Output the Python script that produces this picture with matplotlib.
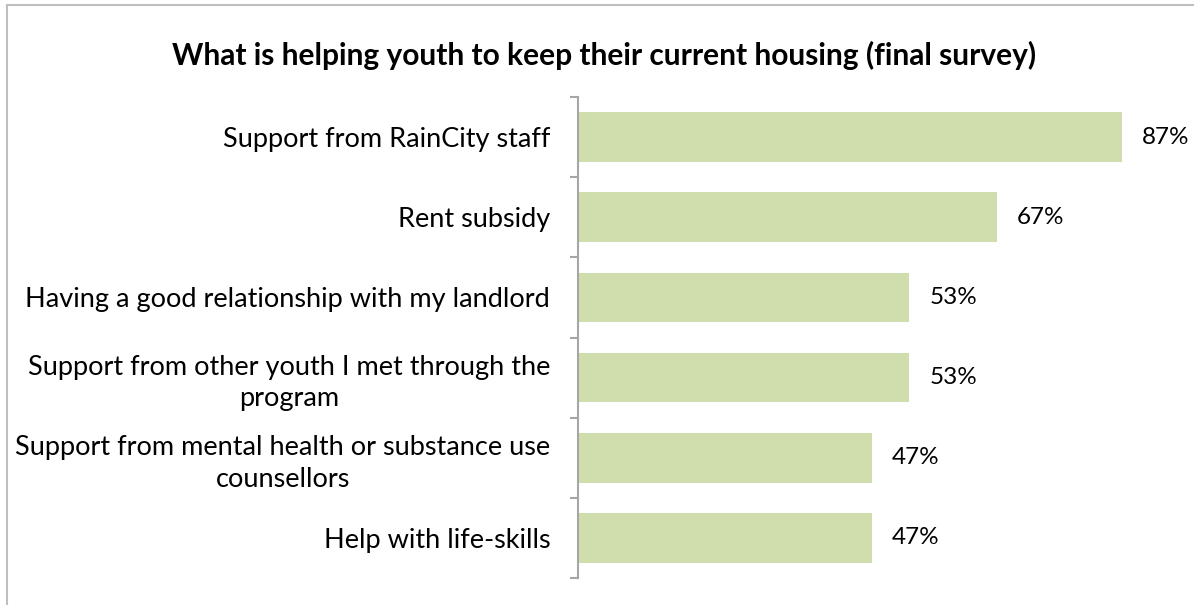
import matplotlib.pyplot as plt
from matplotlib.lines import Line2D

categories = [
    "Support from RainCity staff",
    "Rent subsidy",
    "Having a good relationship with my landlord",
    "Support from other youth I met through the\nprogram",
    "Support from mental health or substance use\ncounsellors",
    "Help with life-skills",
]
values = [0.87, 0.67, 0.53, 0.53, 0.47, 0.47]
value_labels = ["87%", "67%", "53%", "53%", "47%", "47%"]
title = "What is helping youth to keep their current housing (final survey)"

W, H = 1194, 605
fig = plt.figure(figsize=(W / 100, H / 100), dpi=100)
plt.rcParams['font.family'] = ['Lato', 'DejaVu Sans']

# plot area in pixel coordinates
left_px, top_px, bottom_px = 578, 97, 578
xmax = 1.0
px_per_unit = 625.3
right_px = left_px + px_per_unit * xmax
ax = fig.add_axes([left_px / W, 1 - bottom_px / H,
                   (right_px - left_px) / W, (bottom_px - top_px) / H])

n = len(categories)
ypos = list(range(n))
bar_color = "#CFDEAC"
ax.barh(ypos, values, height=0.62, color=bar_color, zorder=2)
ax.set_ylim(n - 0.5, -0.5)
ax.set_xlim(0, xmax)

for y, v, lab in zip(ypos, values, value_labels):
    ax.annotate(lab, (v, y), xytext=(14.4, 0), textcoords="offset points",
                ha="left", va="center", fontsize=17.5, color="#000000")

ax.set_yticks(ypos)
ax.set_yticklabels(categories, fontsize=19.5, linespacing=1.32,
                   multialignment="center")
ax.tick_params(axis="y", length=0, pad=20)
ax.set_yticks([i - 0.5 for i in range(n + 1)], minor=True)
ax.tick_params(axis="y", which="minor", length=6, width=1.5, color="#A6A6A6",
               direction="out")
ax.set_xticks([])
for side in ("top", "right", "bottom"):
    ax.spines[side].set_visible(False)
ax.spines["left"].set_color("#A6A6A6")
ax.spines["left"].set_linewidth(1.5)

fig.text(604 / W, 1 - 55 / H, title, ha="center", va="center",
         fontsize=21.5, fontweight="bold")

# chart frame
fig.add_artist(Line2D([7 / W, 7 / W], [0, 1 - 5 / H], transform=fig.transFigure,
                      color="#BFBFBF", lw=1.5))
fig.add_artist(Line2D([7 / W, 1], [1 - 5 / H, 1 - 5 / H], transform=fig.transFigure,
                      color="#BFBFBF", lw=1.5))

fig.savefig("out.png", dpi=100)
